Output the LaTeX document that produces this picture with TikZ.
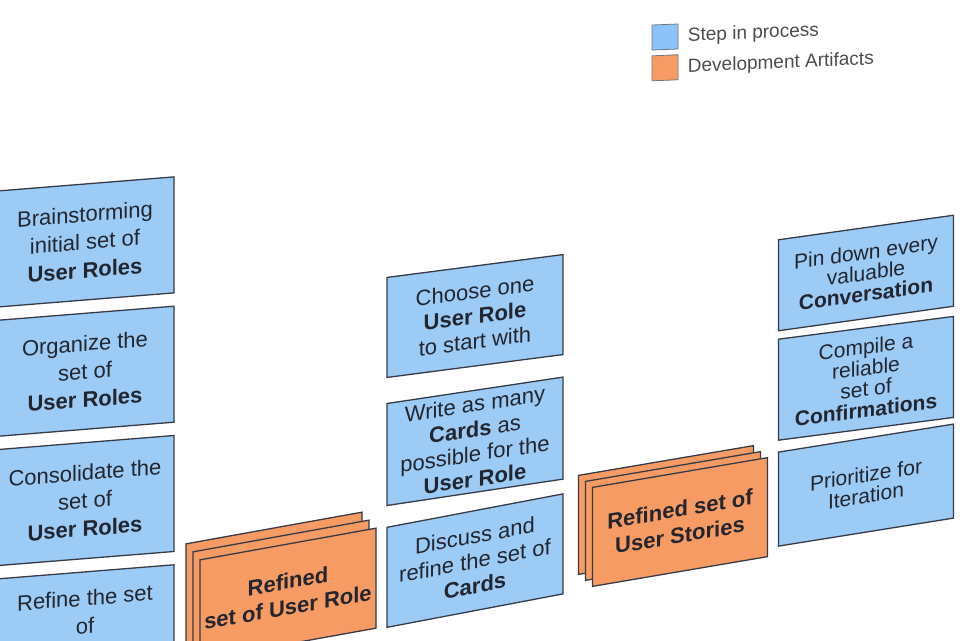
\documentclass[tikz,border=0pt]{standalone}
\usepackage{fontspec}
\setmainfont{Liberation Sans}
\usetikzlibrary{positioning}
\definecolor{stepblue}{HTML}{9CCBF6}
\definecolor{keyblue}{HTML}{8CC4FA}
\definecolor{artorange}{HTML}{F69B63}
\definecolor{edgegray}{HTML}{363B47}
\definecolor{inkgray}{HTML}{23262E}

\begin{document}
\begin{tikzpicture}[x=1pt, y=-1pt, node distance=12pt,
  every node/.style={text=inkgray, font=\fontsize{22}{28}\selectfont},
  stepbox/.style={draw=edgegray, line width=1.3pt, fill=stepblue, align=center, inner sep=0pt, minimum width=178pt, minimum height=116pt},
  artbox/.style={draw=edgegray, line width=1.3pt, fill=artorange, align=center, inner sep=0pt, minimum width=176pt, minimum height=100pt, font=\bfseries\fontsize{22}{26}\selectfont},
  keybox/.style={draw=edgegray!70, line width=0.8pt, inner sep=0pt, minimum width=26pt, minimum height=25pt, yslant=0.04},
  keytext/.style={text=black!70, font=\fontsize{19}{22}\selectfont, yslant=0.04}]
\useasboundingbox (0,0) rectangle (960,640);
\clip (0,0) rectangle (960,640);

% legend
\node[keybox, fill=keyblue] (keystep) at (665,37) {};
\node[keybox, fill=artorange, below=5pt of keystep] (keyart) {};
\node[keytext, right=6pt of keystep] (keysteptext) {Step in process};
\node[keytext, right=6pt of keyart] (keyarttext) {Development Artifacts};

% user roles
\node[stepbox, yslant=0.08] (brainstorm) at (85,242) {Brainstorming\\initial set of\\\textbf{User Roles}};
\node[stepbox, yslant=0.08, below=of brainstorm] (organize) {Organize the\\set of\\\textbf{User Roles}};
\node[stepbox, yslant=0.08, below=of organize] (consolidate) {Consolidate the\\set of\\\textbf{User Roles}};
\node[stepbox, yslant=0.08, below=of consolidate] (refineroles) {Refine the set\\of\\\strut};

% refined roles (stack)
\coordinate (rolespos) at (288,594);
\node[artbox, yslant=0.18] (rolesback) at ([shift={(-14,-16)}]rolespos) {};
\node[artbox, yslant=0.18] (rolesmid) at ([shift={(-7,-8)}]rolespos) {};
\node[artbox, yslant=0.18] (rolescard) at (rolespos) {Refined\\set of User Role};

% cards
\node[stepbox, minimum width=176pt, minimum height=100pt, yslant=0.13, font=\fontsize{22}{25}\selectfont] (chooserole) at (475,316) {Choose one\\\textbf{User Role}\\to start with};
\node[stepbox, minimum width=176pt, minimum height=102pt, yslant=0.15, font=\fontsize{22}{25}\selectfont, below=23pt of chooserole] (writecards) {Write as many\\\textbf{Cards} as\\possible for the\\\textbf{User Role}};
\node[stepbox, minimum width=176pt, minimum height=100pt, yslant=0.19, font=\fontsize{22}{25}\selectfont, below=17pt of writecards] (discuss) {Discuss and\\refine the set of\\\textbf{Cards}};

% refined stories (stack)
\coordinate (storiespos) at (680,522);
\node[artbox, minimum width=175pt, minimum height=99pt, yslant=0.17] (storiesback) at ([shift={(-14,-12)}]storiespos) {};
\node[artbox, minimum width=175pt, minimum height=99pt, yslant=0.17] (storiesmid) at ([shift={(-7,-6)}]storiespos) {};
\node[artbox, minimum width=175pt, minimum height=99pt, yslant=0.17] (storiescard) at (storiespos) {Refined set of\\User Stories};

% stories
\node[stepbox, minimum width=175pt, minimum height=91pt, yslant=0.14, font=\fontsize{21}{21}\selectfont] (pindown) at (866,273) {Pin down every\\valuable\\\textbf{Conversation}};
\node[stepbox, minimum width=175pt, minimum height=101pt, yslant=0.13, font=\fontsize{21}{21}\selectfont, below=8pt of pindown] (compile) {Compile a\\reliable\\set of\\\textbf{Confirmations}};
\node[stepbox, minimum width=175pt, minimum height=94pt, yslant=0.16, font=\fontsize{21}{21}\selectfont, below=8pt of compile] (prioritize) {Prioritize for\\Iteration};
\end{tikzpicture}
\end{document}
